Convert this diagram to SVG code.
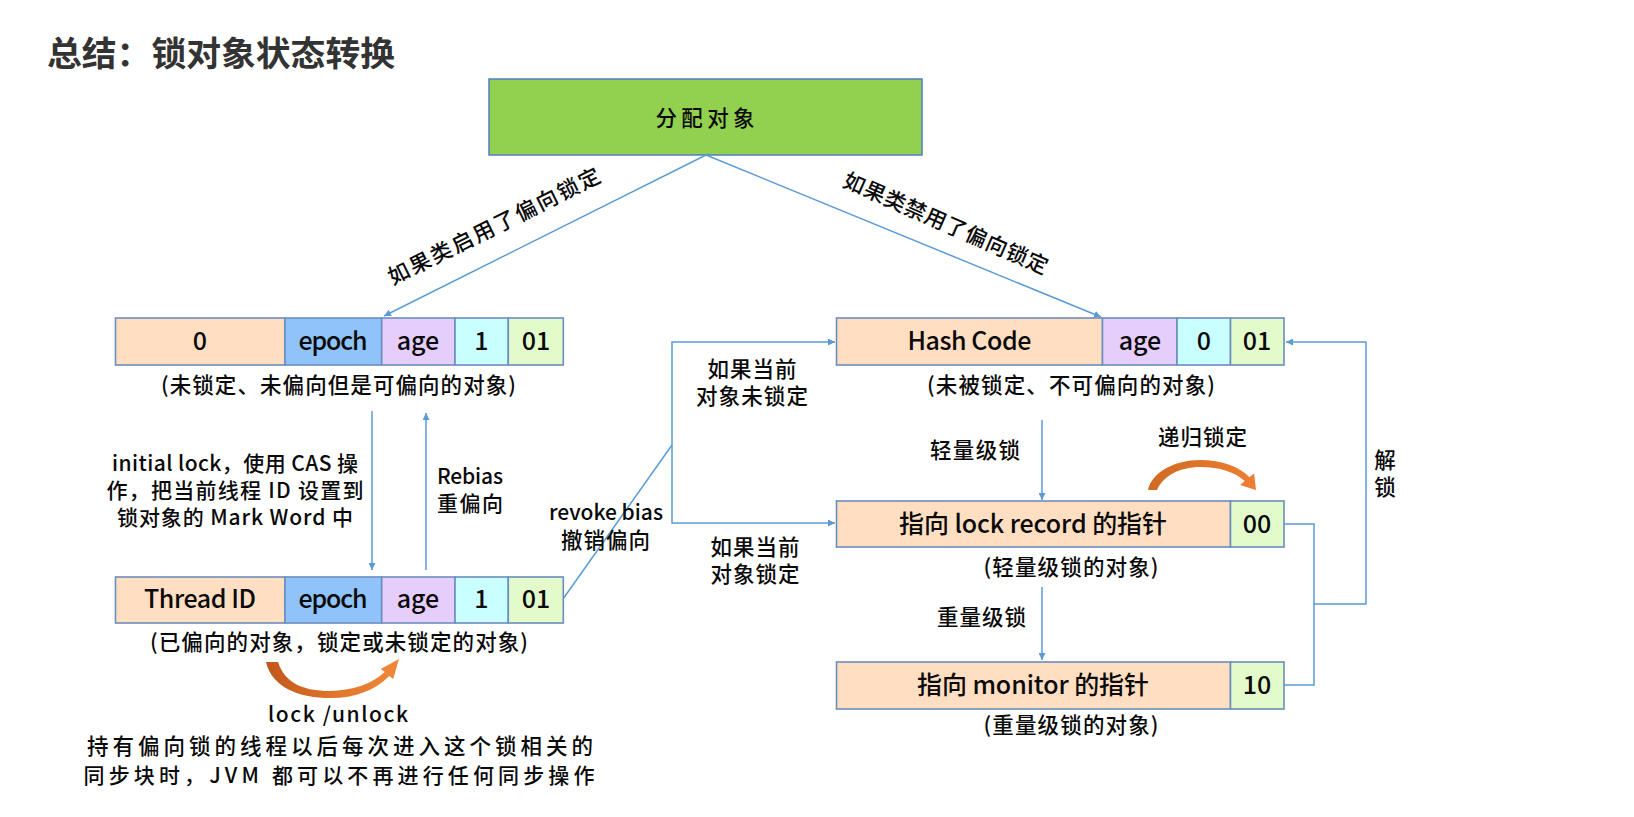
<svg xmlns="http://www.w3.org/2000/svg" width="1634" height="817" viewBox="0 0 1634 817">
<defs>
<style>
.bg{fill:#ffffff}
.cell{stroke:#6C8EBF;stroke-width:1.6}
.peach{fill:#FFDEC2}
.blue{fill:#8FC3FA}
.lav{fill:#E5CDFC}
.cyan{fill:#C9FFFF}
.green{fill:#E3FBCA}
.ct{font-family:'Noto Sans CJK SC','Open Sans',sans-serif;font-size:25px;font-weight:500;fill:#0a0a0a;text-anchor:middle}
.lbl{font-family:'Noto Sans CJK SC','Open Sans',sans-serif;font-size:21px;font-weight:500;fill:#0a0a0a;text-anchor:middle}
.cjk{font-family:'Noto Sans CJK SC','Open Sans',sans-serif;font-size:21.5px;font-weight:500;fill:#0a0a0a;text-anchor:middle}
.conn{fill:none;stroke:#5B9BD5;stroke-width:1.5}
.title{font-family:'Noto Sans CJK SC',sans-serif;font-size:34px;font-weight:700;fill:#333333}
</style>
<marker id="ah" viewBox="0 0 10 10" refX="10" refY="5" markerWidth="7" markerHeight="7" markerUnits="userSpaceOnUse" orient="auto">
<path d="M0,0 L10,5 L0,10 z" fill="#5B9BD5"/>
</marker>
<linearGradient id="og1" x1="0" y1="0" x2="1" y2="0">
<stop offset="0" stop-color="#C0561A"/>
<stop offset="0.5" stop-color="#E0742C"/>
<stop offset="1" stop-color="#F0883A"/>
</linearGradient>
<linearGradient id="og2" x1="0" y1="0" x2="1" y2="0">
<stop offset="0" stop-color="#D06A22"/>
<stop offset="1" stop-color="#EE7E34"/>
</linearGradient>
</defs>
<rect class="bg" x="0" y="0" width="1634" height="817"/>

<text class="title" x="47" y="66" textLength="348" lengthAdjust="spacingAndGlyphs">总结：锁对象状态转换</text>

<g id="alloc">
<rect x="489" y="79" width="433" height="76" fill="#92D050" stroke="#4F7FBF" stroke-width="1.5"/>
<text class="cjk" x="705" y="126" font-size="25" textLength="99">分配对象</text>
</g>

<g id="connectors">
<path class="conn" d="M706,155 L384,316" marker-end="url(#ah)"/>
<path class="conn" d="M706,155 L1101,317" marker-end="url(#ah)"/>
<path class="conn" d="M372,411 V570" marker-end="url(#ah)"/>
<path class="conn" d="M426,570 V413" marker-end="url(#ah)"/>
<path class="conn" d="M563,599 L672,445"/>
<path class="conn" d="M672,445 V342 H835" marker-end="url(#ah)"/>
<path class="conn" d="M672,445 V523 H835" marker-end="url(#ah)"/>
<path class="conn" d="M1042,420 V500" marker-end="url(#ah)"/>
<path class="conn" d="M1042,587 V660" marker-end="url(#ah)"/>
<path class="conn" d="M1284,524 H1314 V685 H1284"/>
<path class="conn" d="M1314,604 H1366 V342 H1286" marker-end="url(#ah)"/>
</g>

<g id="unbiased">
<rect class="cell peach" x="115.5" y="318" width="169.5" height="47"/>
<rect class="cell blue" x="285" y="318" width="96.7" height="47"/>
<rect class="cell lav" x="381.7" y="318" width="73.3" height="47"/>
<rect class="cell cyan" x="455" y="318" width="53.3" height="47"/>
<rect class="cell green" x="508.3" y="318" width="55" height="47"/>
<text class="ct" x="200" y="350">0</text>
<text class="ct" x="333" y="350" textLength="69">epoch</text>
<text class="ct" x="418" y="350" font-size="26">age</text>
<text class="ct" x="481.5" y="350">1</text>
<text class="ct" x="536" y="350">01</text>
<text class="cjk" x="338.5" y="393" textLength="355">(未锁定、未偏向但是可偏向的对象)</text>
</g>

<g id="biased">
<rect class="cell peach" x="115.5" y="577" width="169.5" height="46"/>
<rect class="cell blue" x="285" y="577" width="96.7" height="46"/>
<rect class="cell lav" x="381.7" y="577" width="73.3" height="46"/>
<rect class="cell cyan" x="455" y="577" width="53.3" height="46"/>
<rect class="cell green" x="508.3" y="577" width="55" height="46"/>
<text class="ct" x="200" y="608" textLength="112">Thread ID</text>
<text class="ct" x="333" y="608" textLength="69">epoch</text>
<text class="ct" x="418" y="608" font-size="26">age</text>
<text class="ct" x="481.5" y="608">1</text>
<text class="ct" x="536" y="608">01</text>
<text class="cjk" x="339" y="650" textLength="378">(已偏向的对象，锁定或未锁定的对象)</text>
</g>

<g id="hashcode">
<rect class="cell peach" x="836.5" y="318" width="266" height="47"/>
<rect class="cell lav" x="1102.5" y="318" width="74.5" height="47"/>
<rect class="cell cyan" x="1177" y="318" width="53.5" height="47"/>
<rect class="cell green" x="1230.5" y="318" width="53.5" height="47"/>
<text class="ct" x="969.5" y="350" textLength="124">Hash Code</text>
<text class="ct" x="1140" y="350" font-size="26">age</text>
<text class="ct" x="1204" y="350">0</text>
<text class="ct" x="1257" y="350">01</text>
<text class="cjk" x="1071" y="393" textLength="288">(未被锁定、不可偏向的对象)</text>
</g>

<g id="lightweight">
<rect class="cell peach" x="836.5" y="501" width="394" height="46"/>
<rect class="cell green" x="1230.5" y="501" width="53.5" height="46"/>
<text class="ct" x="1033" y="533" textLength="268">指向 lock record 的指针</text>
<text class="ct" x="1257" y="533">00</text>
<text class="cjk" x="1071" y="575" textLength="175">(轻量级锁的对象)</text>
</g>

<g id="heavyweight">
<rect class="cell peach" x="836.5" y="662" width="394" height="47"/>
<rect class="cell green" x="1230.5" y="662" width="53.5" height="47"/>
<text class="ct" x="1033" y="694" textLength="232">指向 monitor 的指针</text>
<text class="ct" x="1257" y="694">10</text>
<text class="cjk" x="1071" y="733" textLength="175">(重量级锁的对象)</text>
</g>

<g id="labels">
<text class="cjk" transform="translate(494,226) rotate(-26.5)" x="0" y="8" textLength="234">如果类启用了偏向锁定</text>
<text class="cjk" transform="translate(946,223) rotate(23.7)" x="0" y="8" textLength="221">如果类禁用了偏向锁定</text>
<text class="lbl" x="235" y="471" textLength="246">initial lock，使用 CAS 操</text>
<text class="lbl" x="235" y="498" textLength="257">作，把当前线程 ID 设置到</text>
<text class="lbl" x="235" y="525" textLength="236">锁对象的 Mark Word 中</text>
<text class="lbl" x="437" y="484" style="text-anchor:start" textLength="66">Rebias</text>
<text class="lbl" x="437" y="511" style="text-anchor:start" textLength="66">重偏向</text>
<text class="cjk" x="752" y="377" textLength="89">如果当前</text>
<text class="cjk" x="752" y="404" textLength="112">对象未锁定</text>
<text class="lbl" x="606" y="520" textLength="114">revoke bias</text>
<text class="cjk" x="605.5" y="548" textLength="89">撤销偏向</text>
<text class="cjk" x="755" y="555" textLength="89">如果当前</text>
<text class="cjk" x="755" y="582" textLength="89">对象锁定</text>
<text class="cjk" x="975" y="458" textLength="90">轻量级锁</text>
<text class="cjk" x="981.5" y="625" textLength="89">重量级锁</text>
<text class="cjk" x="1202.5" y="445" textLength="89">递归锁定</text>
<text class="cjk" x="1385" y="468">解</text>
<text class="cjk" x="1385" y="495">锁</text>
<text class="lbl" x="338" y="722" font-size="23" textLength="140">lock /unlock</text>
<text class="cjk" x="340" y="754" font-size="24" textLength="506">持有偏向锁的线程以后每次进入这个锁相关的</text>
<text class="lbl" x="339" y="783" font-size="24" textLength="511">同步块时，JVM 都可以不再进行任何同步操作</text>
</g>

<g id="arc-lock-unlock">
<path fill="url(#og1)" d="M266,662 C272,688 300,698 330,698 C356,698 375,690 389.3,675.9 L393.2,679 L399,659 L380.8,669 L384.7,672.1 C372,684 352,691 330,691 C303,691 285,683 278,662 Z"/>
</g>
<g id="arc-recursive">
<path fill="url(#og2)" d="M1148,490 C1152,472 1175,460 1200,460 C1222,460 1240,467 1249.4,477.3 L1254.1,473.5 L1256,490 L1240.1,484.9 L1244.8,481.1 C1235,472 1220,467 1200,467 C1180,467 1163,476 1157,490 Z"/>
</g>
</svg>
